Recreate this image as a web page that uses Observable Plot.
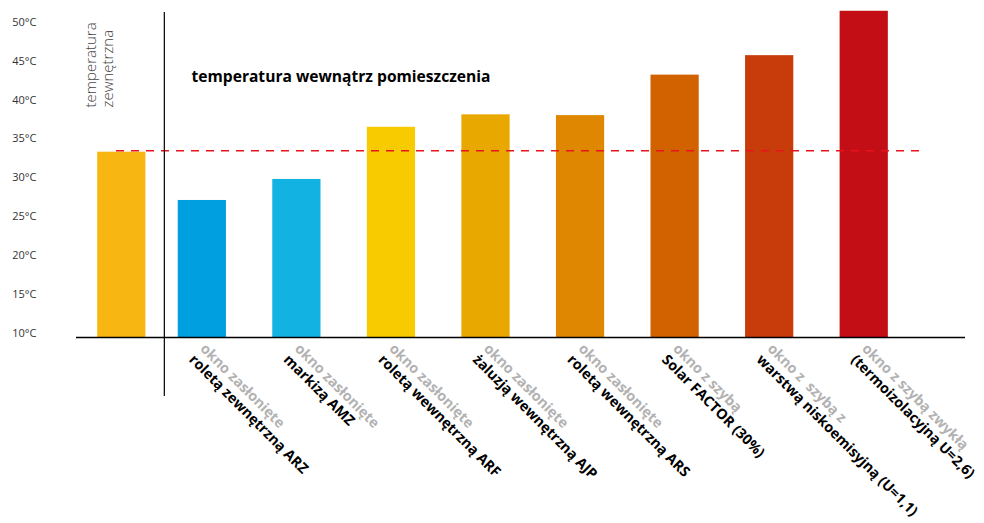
<!DOCTYPE html>
<html>
<head>
<meta charset="utf-8">
<script src="https://cdn.jsdelivr.net/npm/d3@7"></script>
<script src="https://cdn.jsdelivr.net/npm/@observablehq/plot@0.6"></script>
<style>
  body { margin: 0; background: #fff; }
  #chart svg { display: block; }
</style>
</head>
<body>
<div id="chart"></div>
<script>
// ---- data ----
const categories = ["zewnętrzna", "ARZ", "AMZ", "ARF", "AJP", "ARS", "SOLAR", "LOWE", "STD"];
const values = [33.3, 27.1, 29.8, 36.5, 38.1, 38.0, 43.2, 45.7, 51.4];
const labelTop = [
  "",
  "okno zasłonięte",
  "okno zasłonięte",
  "okno zasłonięte",
  "okno zasłonięte",
  "okno zasłonięte",
  "okno z szybą",
  "okno z\u00a0 szybą z",
  "okno z szybą zwykłą"
];
const labelBottom = [
  "",
  "roletą zewnętrzną ARZ",
  "markizą AMZ",
  "roletą wewnętrzną ARF",
  "żaluzją wewnętrzną AJP",
  "roletą wewnętrzną ARS",
  "Solar FACTOR (30%)",
  "warstwą niskoemisyjną (U=1,1)",
  "(termoizolacyjną U=2,6)"
];
const outsideTemp = 33.5;
const yTicks = [10, 15, 20, 25, 30, 35, 40, 45, 50];
const yDomain = [9.5, 51.5];
const titleText = "temperatura wewnątrz pomieszczenia";
const outsideLabel = "temperatura\nzewnętrzna";

// ---- styles ----
const palette = ["#F8B613", "#009FE0", "#12B2E3", "#F7CB00", "#E9A800", "#DF8700", "#D26100", "#C83C0C", "#C20E14"];

const data = categories.map((c, i) => ({cat: c, value: values[i], top: labelTop[i], bottom: labelBottom[i]}));
const outside = data.slice(0, 1);
const inside = data.slice(1);
const yMin = yDomain[0];

const chart = Plot.plot({
  width: 984,
  height: 523,
  marginTop: 10,
  marginBottom: 186,
  marginLeft: 60,
  marginRight: 73,
  style: {fontFamily: "'Open Sans', sans-serif", background: "#fff"},
  x: {domain: categories, paddingInner: 0.49, paddingOuter: 0.245, round: false, axis: null},
  y: {domain: yDomain},
  color: {domain: categories, range: palette},
  marks: [
    Plot.axisY(yTicks, {tickSize: 0, tickPadding: 24, tickFormat: d => d + "°C", fontSize: 11, fill: "#333", label: null}),
    Plot.barY(outside, {x: "cat", y1: () => yMin, y2: "value", fill: "cat", dx: 14}),
    Plot.barY(inside, {x: "cat", y1: () => yMin, y2: "value", fill: "cat"}),
    Plot.ruleY([outsideTemp], {stroke: "#e8141b", strokeWidth: 1.5, strokeDasharray: "8,7", insetLeft: 56, insetRight: -13}),
    Plot.ruleY([yMin], {stroke: "#000", strokeWidth: 1.5, insetLeft: 16, insetRight: -54}),
    Plot.ruleX([categories[1]], {dx: -38, stroke: "#000", strokeWidth: 1.2, insetTop: 2, insetBottom: -59}),
    Plot.text(inside, {
      x: "cat", y: () => yMin, text: d => d.top + "\n",
      rotate: 45, textAnchor: "start", lineAnchor: "top", lineHeight: 1.1,
      dx: 5, dy: 4, fontSize: 14.3, fontWeight: "bold", fill: "#b2b2b2"
    }),
    Plot.text(inside, {
      x: "cat", y: () => yMin, text: d => "\n" + d.bottom,
      rotate: 45, textAnchor: "start", lineAnchor: "top", lineHeight: 1.1,
      dx: 5, dy: 4, fontSize: 14.3, fontWeight: "bold", fill: "#000"
    }),
    Plot.text([titleText], {
      frameAnchor: "top-left", textAnchor: "start", lineAnchor: "middle",
      dx: 131, dy: 66, fontSize: 15.6, fontWeight: "bold", fill: "#000"
    }),
    Plot.text([outsideLabel], {
      frameAnchor: "top-left", rotate: -90, textAnchor: "start", lineAnchor: "top",
      lineHeight: 1.1, dx: 24, dy: 97, fontSize: 15, fontWeight: 300, fill: "#444"
    })
  ]
});

document.getElementById("chart").appendChild(chart);
</script>
</body>
</html>
